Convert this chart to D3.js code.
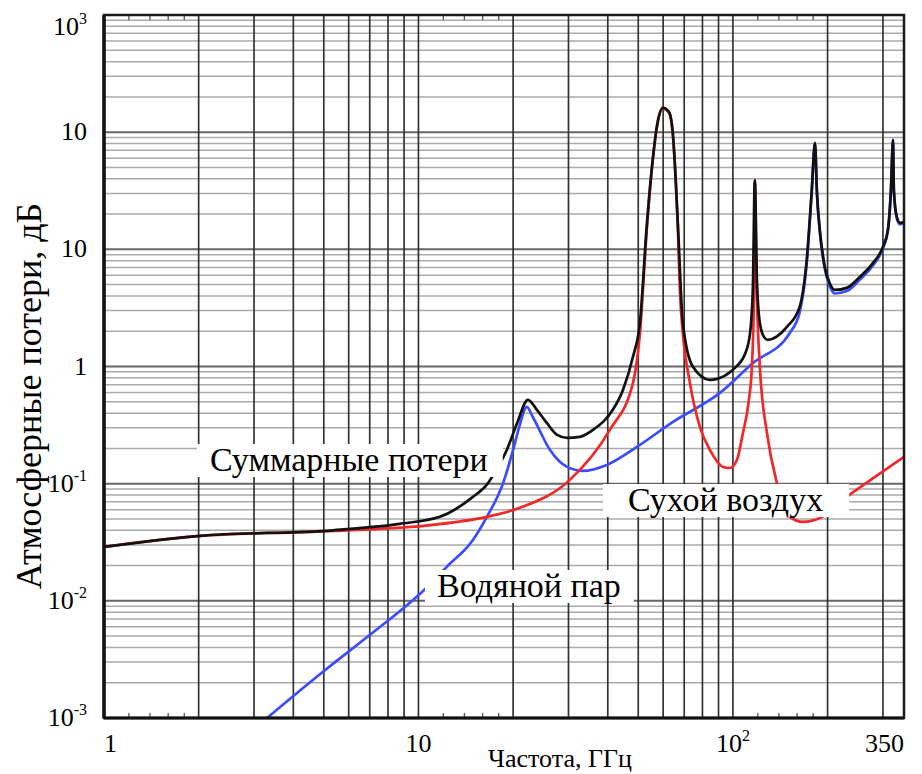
<!DOCTYPE html>
<html>
<head>
<meta charset="utf-8">
<script src="https://cdn.jsdelivr.net/npm/d3@7"></script>
<style>
  body { margin: 0; background: #fff; }
</style>
</head>
<body>
<svg width="922" height="774" font-family="Liberation Serif, Tinos, Times New Roman, serif"></svg>
<script>
// total losses (black), GHz / dB
const totalFreq = [1, 2.02, 5.35, 8.7, 11.7, 14.9, 16.5, 17.8, 19.1, 20.6, 22.3, 23.8, 25.6, 27.6, 29.7, 32.6, 35.9, 41.5, 44.7, 48.1, 50.6, 53.3, 55.7, 57.4, 59.9, 62.6, 64.4, 66.8, 69.3, 74.6, 84.4, 105, 109, 113.2, 115.7, 117.4, 119.2, 121.8, 125.5, 129, 148.5, 163, 172, 178, 182.4, 185, 189, 196, 203, 211, 230, 253, 279, 300, 311, 318, 323, 325, 332, 340, 350];
const totalLoss = [0.0289, 0.0359, 0.0400, 0.0454, 0.0521, 0.0771, 0.098, 0.135, 0.194, 0.33, 0.519, 0.427, 0.33, 0.261, 0.246, 0.251, 0.288, 0.427, 0.631, 1.21, 2.35, 16.8, 61.4, 115, 161, 149, 98, 16.8, 2.35, 0.993, 0.769, 1.07, 1.26, 1.86, 4.5, 39, 5.5, 2.35, 1.79, 1.69, 2.18, 3.23, 8.6, 31, 81, 31, 14.6, 7.08, 5.16, 4.5, 4.69, 5.8, 7.66, 10.5, 14.6, 32, 86, 32, 18.9, 16.8, 17.1];

// dry air (red)
const dryFreq = [1, 2.02, 5.35, 11.1, 16.5, 21.0, 30.3, 40.6, 48.1, 50.6, 53.3, 55.7, 57.4, 59.9, 62.6, 64.4, 66.8, 67.8, 69.3, 73.0, 78.5, 84.5, 93.0, 97.8, 103, 107.6, 112.4, 114.9, 116.6, 117.4, 119.2, 121.8, 128.3, 138, 151.8, 167, 189, 230, 283, 350];
const dryLoss = [0.0289, 0.0359, 0.0395, 0.0445, 0.0521, 0.0622, 0.1077, 0.288, 0.724, 1.9, 15.5, 60, 113, 159, 147, 96, 15.5, 4.5, 1.94, 0.724, 0.305, 0.194, 0.139, 0.136, 0.160, 0.271, 0.519, 0.993, 3.7, 38, 4.0, 0.993, 0.271, 0.1016, 0.0521, 0.0472, 0.051, 0.0771, 0.1143, 0.1694];

// water vapour (blue)
const vaporFreq = [3.30, 4.97, 7.01, 10.26, 12.3, 14.9, 16.5, 18.6, 20.0, 21.0, 22.1, 23.1, 26.2, 29.7, 33.3, 39.7, 49.5, 64.5, 90.9, 115.8, 151.8, 163, 172, 178, 182.4, 185, 189, 196, 203, 211, 230, 253, 279, 300, 311, 318, 323, 325, 332, 340, 350];
const vaporLoss = [0.001, 0.00248, 0.00513, 0.0119, 0.0195, 0.0331, 0.0521, 0.1016, 0.194, 0.318, 0.452, 0.371, 0.194, 0.139, 0.1286, 0.1446, 0.206, 0.337, 0.595, 1.07, 1.94, 2.9, 8.0, 30, 80, 30, 14, 6.8, 4.9, 4.2, 4.4, 5.5, 7.3, 10.2, 14.3, 31, 85, 31, 18.5, 16.4, 16.8];

const xTickValues = [1, 10, 100, 350];
const xTickLabels = [["1", ""], ["10", ""], ["10", "2"], ["350", ""]];
const yTickValues = [1000, 100, 10, 1, 0.1, 0.01, 0.001];
const yTickLabels = [["10", "3"], ["10", ""], ["10", ""], ["1", ""], ["10", "-1"], ["10", "-2"], ["10", "-3"]];
const seriesNames = ["Суммарные потери", "Сухой воздух", "Водяной пар"];

const svg = d3.select("svg");
const plotLeft = 104, plotRight = 904, plotTop = 15, plotBottom = 718;
const serif = "Liberation Serif";

const x = d3.scaleLog().domain([1, 350]).range([plotLeft, plotRight]);
const y = d3.scaleLog().domain([0.001, 1000]).range([plotBottom, plotTop]);

svg.append("rect").attr("width", 922).attr("height", 774).attr("fill", "#fff");

// horizontal grid
svg.append("g").selectAll("line")
    .data(y.ticks())
    .join("line")
    .attr("x1", plotLeft).attr("x2", plotRight)
    .attr("y1", d => y(d)).attr("y2", d => y(d))
    .attr("stroke", d => Number.isInteger(Math.log10(d)) ? "#666" : "#aaa")
    .attr("stroke-width", d => Number.isInteger(Math.log10(d)) ? 2 : 1.5);

// vertical grid
svg.append("g").selectAll("line")
    .data(x.ticks().filter(d => d > 1 && d < 350))
    .join("line")
    .attr("x1", d => x(d)).attr("x2", d => x(d))
    .attr("y1", plotTop).attr("y2", plotBottom)
    .attr("stroke", "#333")
    .attr("stroke-width", 1.7);

// small ticks inside top and bottom edges
const minor = [];
[1, 10, 100].forEach(k => [1.2, 1.4, 1.6, 1.8].forEach(m => minor.push(k * m)));
svg.append("g").selectAll("line")
    .data(minor)
    .join("line")
    .attr("x1", d => x(d)).attr("x2", d => x(d))
    .attr("y1", plotBottom).attr("y2", plotBottom - 5)
    .attr("stroke", "#555").attr("stroke-width", 1.3);
svg.append("g").selectAll("line")
    .data(minor)
    .join("line")
    .attr("x1", d => x(d)).attr("x2", d => x(d))
    .attr("y1", plotTop).attr("y2", plotTop + 5)
    .attr("stroke", "#555").attr("stroke-width", 1.3);

// curves
svg.append("clipPath").attr("id", "plot")
    .append("rect").attr("x", plotLeft).attr("y", plotTop)
    .attr("width", plotRight - plotLeft).attr("height", plotBottom - plotTop);

const line = d3.line()
    .x(d => x(d[0]))
    .y(d => y(d[1]))
    .curve(d3.curveMonotoneX);

const curves = svg.append("g").attr("clip-path", "url(#plot)")
    .attr("fill", "none").attr("stroke-width", 2.7)
    .attr("stroke-linejoin", "round");
curves.append("path").attr("d", line(d3.zip(vaporFreq, vaporLoss))).attr("stroke", "#3a4cff");
curves.append("path").attr("d", line(d3.zip(dryFreq, dryLoss))).attr("stroke", "#f02828");
curves.append("path").attr("d", line(d3.zip(totalFreq, totalLoss))).attr("stroke", "#111");

// frame
svg.append("rect")
    .attr("x", plotLeft).attr("y", plotTop)
    .attr("width", plotRight - plotLeft).attr("height", plotBottom - plotTop)
    .attr("fill", "none").attr("stroke", "#1a1a1a").attr("stroke-width", 2.5);
svg.append("line").attr("x1", plotLeft).attr("x2", plotLeft).attr("y1", plotTop).attr("y2", plotBottom)
    .attr("stroke", "#111").attr("stroke-width", 3.5);
svg.append("line").attr("x1", plotLeft).attr("x2", plotRight).attr("y1", plotBottom).attr("y2", plotBottom)
    .attr("stroke", "#111").attr("stroke-width", 3);

// series labels on white boxes
const labelPos = [[210, 471, 13, 15], [628, 511, 25, 26], [437, 597, 12, 13]];
seriesNames.forEach((name, i) => {
    const [lx, ly, pl, pr] = labelPos[i];
    const g = svg.append("g");
    const t = g.append("text").attr("x", lx).attr("y", ly)
        .attr("font-family", serif)
        .attr("font-size", 34).text(name);
    const b = t.node().getBBox();
    g.insert("rect", "text")
        .attr("x", b.x - pl).attr("y", b.y + 3)
        .attr("width", b.width + pl + pr).attr("height", b.height - 4)
        .attr("fill", "#fff");
});

// tick labels
function addLabel(sel, base, sup) {
    sel.append("tspan").text(base);
    if (sup) sel.append("tspan").attr("font-size", 16).attr("dy", -11).text(sup);
}

xTickValues.forEach((v, i) => {
    const t = svg.append("text")
        .attr("x", x(v))
        .attr("y", 752)
        .attr("font-family", serif)
        .attr("font-size", 26)
        .attr("text-anchor", i === 0 ? "start" : i === xTickValues.length - 1 ? "end" : "middle");
    addLabel(t, xTickLabels[i][0], xTickLabels[i][1]);
});

yTickValues.forEach((v, i) => {
    const t = svg.append("text")
        .attr("x", 87)
        .attr("y", Math.max(y(v), 27) + 8)
        .attr("font-family", serif)
        .attr("font-size", 26)
        .attr("text-anchor", "end");
    addLabel(t, yTickLabels[i][0], yTickLabels[i][1]);
});

// axis titles
svg.append("text")
    .attr("x", 560).attr("y", 767)
    .attr("font-family", serif)
    .attr("font-size", 26)
    .attr("text-anchor", "middle")
    .text("Частота, ГГц");

svg.append("text")
    .attr("transform", "translate(41,396) rotate(-90)")
    .attr("font-family", serif)
    .attr("font-size", 36)
    .attr("text-anchor", "middle")
    .text("Атмосферные потери, дБ");
</script>
</body>
</html>
